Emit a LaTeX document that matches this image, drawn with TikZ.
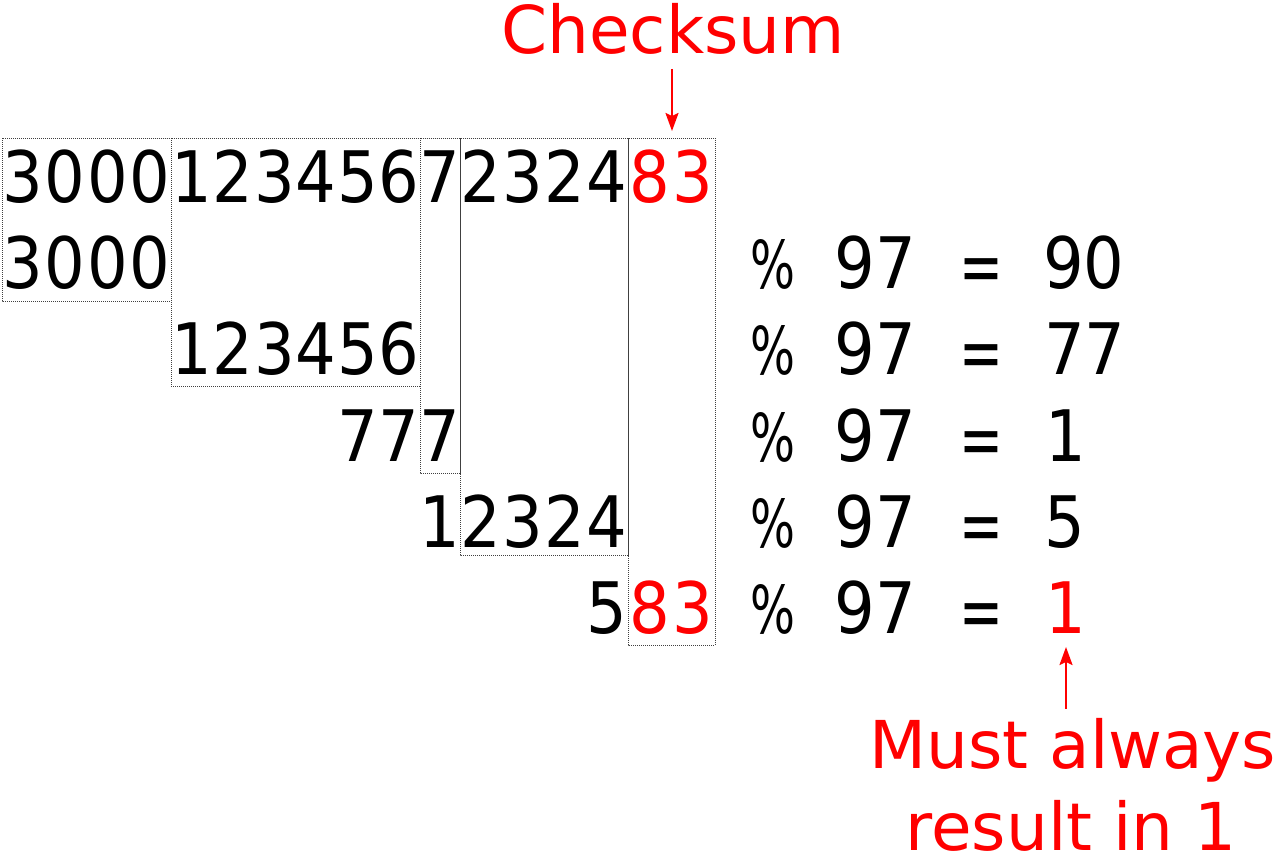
\documentclass[tikz,border=0pt]{standalone}
\usepackage{fontspec}
\setmainfont{DejaVu Sans}
\newfontfamily\dgfont{DejaVu Sans}[FakeStretch=0.9]
\usetikzlibrary{arrows.meta}
\definecolor{chk}{RGB}{255,0,0}
\newcommand\cel[2]{\makebox[#1pt]{#2}}
\begin{document}
\begin{tikzpicture}[x=1pt,y=-1pt,
  dig/.style={inner sep=0pt, outer sep=0pt, anchor=base west, font=\dgfont\fontsize{71}{71}\selectfont},
  op/.style={inner sep=0pt, outer sep=0pt, anchor=base, font=\dgfont\fontsize{71}{71}\selectfont},
  grp/.style={draw=black!75, line width=0.8pt, dash pattern=on 1pt off 1pt},
  lbl/.style={inner sep=0pt, outer sep=0pt, text=chk, anchor=base, font=\fontsize{66}{66}\selectfont},
  arr/.style={draw=chk, line width=2pt, -{Stealth[length=18pt,width=13pt,inset=3pt]}}]
\useasboundingbox (0,0) rectangle (1280,857);

% dotted group boxes
\draw[grp] (2,138) rectangle (171,301);
\draw[grp] (171,138) rectangle (420,386);
\draw[grp] (420,138) rectangle (460,473);
\draw[grp] (460,138) rectangle (628,555);
\draw[grp] (628,138) rectangle (715,645);

% digit rows
\node[dig] (r1) at (2,202) {\cel{42.25}{3}\cel{42.25}{0}\cel{42.25}{0}\cel{42.25}{0}%
\cel{41.5}{1}\cel{41.5}{2}\cel{41.5}{3}\cel{41.5}{4}\cel{41.5}{5}\cel{41.5}{6}%
\cel{40}{7}%
\cel{42}{2}\cel{42}{3}\cel{42}{2}\cel{42}{4}%
\textcolor{chk}{\cel{43.5}{8}\cel{43.5}{3}}};
\node[dig] (r2) at (2,288) {\cel{42.25}{3}\cel{42.25}{0}\cel{42.25}{0}\cel{42.25}{0}};
\node[dig] (r3) at (171,374.5) {\cel{41.5}{1}\cel{41.5}{2}\cel{41.5}{3}\cel{41.5}{4}\cel{41.5}{5}\cel{41.5}{6}};
\node[dig] (r4) at (337,461) {\cel{41.5}{7}\cel{41.5}{7}\cel{40}{7}};
\node[dig] (r5) at (420,547) {\cel{40}{1}\cel{42}{2}\cel{42}{3}\cel{42}{2}\cel{42}{4}};
\node[dig] (r6) at (586,633) {\cel{42}{5}\textcolor{chk}{\cel{43.5}{8}\cel{43.5}{3}}};

% modulo column
\foreach \b/\i in {288/2,374.5/3,461/4,547/5,633/6}{
  \node[op] (pct\i) at (773,\b) {\scalebox{0.74}[0.93]{\%}};
  \node[op] (mod\i) at (875.5,\b) {97};
  \node[op] (eq\i) at (981,\b) {\raisebox{-4pt}{\scalebox{0.82}[1.05]{=}}};
}
\node[op] (res2) at (1084,288) {90};
\node[op] (res3) at (1085,374.5) {77};
\node[op] (res4) at (1066,461) {1};
\node[op] (res5) at (1065,547) {5};
\node[op, text=chk] (res6) at (1066,633) {1};

% labels
\node[lbl] (chk) at (673,53) {Checksum};
\coordinate (ckt) at (672,131);
\draw[arr, shorten <=15pt] (ckt |- chk.south) -- (ckt);

\node[lbl] (must1) at (1073,768) {Must always};
\node[lbl] (must2) at (1071,850) {result in 1};
\draw[arr, shorten <=9pt, shorten >=14pt] (must1.north -| res6) -- (res6.south);
\end{tikzpicture}
\end{document}
